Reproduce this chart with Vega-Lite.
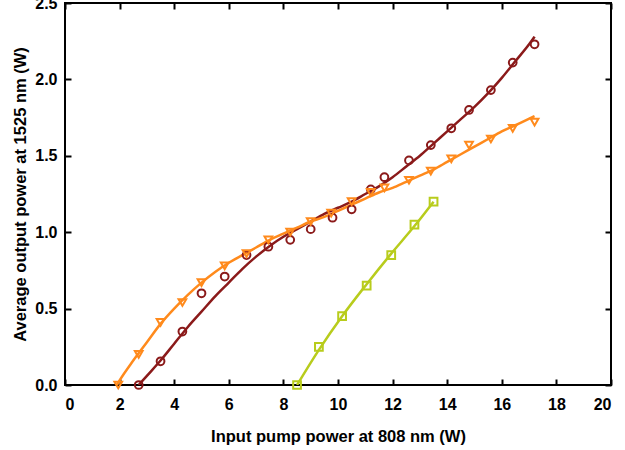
{
  "$schema": "https://vega.github.io/schema/vega-lite/v6.json",
  "width": 546,
  "height": 382,
  "padding": {"left": 65, "top": 3, "right": 14, "bottom": 65},
  "autosize": {"type": "none"},
  "background": "white",
  "config": {
    "font": "Liberation Sans",
    "view": {"stroke": "#000000", "strokeWidth": 2},
    "axis": {
      "zindex": 2,
      "grid": false,
      "domain": false,
      "ticks": true,
      "tickOpacity": 1,
      "offset": -6,
      "tickColor": "#000000",
      "tickWidth": 2,
      "tickSize": 6,
      "labelFont": "Liberation Sans",
      "labelFontWeight": "bold",
      "labelFontSize": 16,
      "labelColor": "#000000",
      "titleFont": "Liberation Sans",
      "titleFontWeight": "bold",
      "titleFontSize": 16.5,
      "titleColor": "#000000"
    },
    "legend": {"disable": false, "zindex": 2, "symbolOpacity": 1}
  },
  "datasets": {
    "measured": [
      {"series": "40 kHz (double-end)", "pump": 2.7, "power": 0.0},
      {"series": "40 kHz (double-end)", "pump": 3.5, "power": 0.155},
      {"series": "40 kHz (double-end)", "pump": 4.3, "power": 0.35},
      {"series": "40 kHz (double-end)", "pump": 5.0, "power": 0.6},
      {"series": "40 kHz (double-end)", "pump": 5.85, "power": 0.71},
      {"series": "40 kHz (double-end)", "pump": 6.65, "power": 0.85},
      {"series": "40 kHz (double-end)", "pump": 7.45, "power": 0.905},
      {"series": "40 kHz (double-end)", "pump": 8.25, "power": 0.95},
      {"series": "40 kHz (double-end)", "pump": 9.0, "power": 1.02},
      {"series": "40 kHz (double-end)", "pump": 9.8, "power": 1.095},
      {"series": "40 kHz (double-end)", "pump": 10.5, "power": 1.15},
      {"series": "40 kHz (double-end)", "pump": 11.2, "power": 1.28},
      {"series": "40 kHz (double-end)", "pump": 11.7, "power": 1.36},
      {"series": "40 kHz (double-end)", "pump": 12.6, "power": 1.47},
      {"series": "40 kHz (double-end)", "pump": 13.4, "power": 1.57},
      {"series": "40 kHz (double-end)", "pump": 14.15, "power": 1.68},
      {"series": "40 kHz (double-end)", "pump": 14.8, "power": 1.8},
      {"series": "40 kHz (double-end)", "pump": 15.6, "power": 1.93},
      {"series": "40 kHz (double-end)", "pump": 16.4, "power": 2.11},
      {"series": "40 kHz (double-end)", "pump": 17.2, "power": 2.23},
      {"series": "20 kHz (double-end)", "pump": 1.95, "power": 0.0},
      {"series": "20 kHz (double-end)", "pump": 2.7, "power": 0.2},
      {"series": "20 kHz (double-end)", "pump": 3.5, "power": 0.41},
      {"series": "20 kHz (double-end)", "pump": 4.3, "power": 0.54},
      {"series": "20 kHz (double-end)", "pump": 5.0, "power": 0.67},
      {"series": "20 kHz (double-end)", "pump": 5.85, "power": 0.78},
      {"series": "20 kHz (double-end)", "pump": 6.65, "power": 0.86},
      {"series": "20 kHz (double-end)", "pump": 7.45, "power": 0.95},
      {"series": "20 kHz (double-end)", "pump": 8.25, "power": 1.0},
      {"series": "20 kHz (double-end)", "pump": 9.0, "power": 1.07},
      {"series": "20 kHz (double-end)", "pump": 9.75, "power": 1.125},
      {"series": "20 kHz (double-end)", "pump": 10.5, "power": 1.2},
      {"series": "20 kHz (double-end)", "pump": 11.2, "power": 1.26},
      {"series": "20 kHz (double-end)", "pump": 11.7, "power": 1.29},
      {"series": "20 kHz (double-end)", "pump": 12.6, "power": 1.34},
      {"series": "20 kHz (double-end)", "pump": 13.4, "power": 1.4},
      {"series": "20 kHz (double-end)", "pump": 14.15, "power": 1.48},
      {"series": "20 kHz (double-end)", "pump": 14.8, "power": 1.57},
      {"series": "20 kHz (double-end)", "pump": 15.6, "power": 1.61},
      {"series": "20 kHz (double-end)", "pump": 16.4, "power": 1.68},
      {"series": "20 kHz (double-end)", "pump": 17.2, "power": 1.72},
      {"series": "20 kHz (conventional)", "pump": 8.5, "power": 0.0},
      {"series": "20 kHz (conventional)", "pump": 9.3, "power": 0.25},
      {"series": "20 kHz (conventional)", "pump": 10.15, "power": 0.45},
      {"series": "20 kHz (conventional)", "pump": 11.05, "power": 0.65},
      {"series": "20 kHz (conventional)", "pump": 11.95, "power": 0.85},
      {"series": "20 kHz (conventional)", "pump": 12.8, "power": 1.05},
      {"series": "20 kHz (conventional)", "pump": 13.5, "power": 1.2}
    ],
    "fitted": [
      {"series": "40 kHz (double-end)", "pump": 2.7, "power": 0.0},
      {"series": "40 kHz (double-end)", "pump": 3.0, "power": 0.06},
      {"series": "40 kHz (double-end)", "pump": 3.5, "power": 0.16},
      {"series": "40 kHz (double-end)", "pump": 4.0, "power": 0.27},
      {"series": "40 kHz (double-end)", "pump": 4.5, "power": 0.38},
      {"series": "40 kHz (double-end)", "pump": 5.0, "power": 0.48},
      {"series": "40 kHz (double-end)", "pump": 5.5, "power": 0.58},
      {"series": "40 kHz (double-end)", "pump": 6.0, "power": 0.67},
      {"series": "40 kHz (double-end)", "pump": 6.5, "power": 0.76},
      {"series": "40 kHz (double-end)", "pump": 7.0, "power": 0.84},
      {"series": "40 kHz (double-end)", "pump": 7.5, "power": 0.91},
      {"series": "40 kHz (double-end)", "pump": 8.0, "power": 0.97},
      {"series": "40 kHz (double-end)", "pump": 8.5, "power": 1.02},
      {"series": "40 kHz (double-end)", "pump": 9.0, "power": 1.07},
      {"series": "40 kHz (double-end)", "pump": 9.5, "power": 1.12},
      {"series": "40 kHz (double-end)", "pump": 10.0, "power": 1.16},
      {"series": "40 kHz (double-end)", "pump": 10.5, "power": 1.2},
      {"series": "40 kHz (double-end)", "pump": 11.0, "power": 1.25},
      {"series": "40 kHz (double-end)", "pump": 11.5, "power": 1.3},
      {"series": "40 kHz (double-end)", "pump": 12.0, "power": 1.36},
      {"series": "40 kHz (double-end)", "pump": 12.5, "power": 1.43},
      {"series": "40 kHz (double-end)", "pump": 13.0, "power": 1.5},
      {"series": "40 kHz (double-end)", "pump": 13.5, "power": 1.58},
      {"series": "40 kHz (double-end)", "pump": 14.0, "power": 1.66},
      {"series": "40 kHz (double-end)", "pump": 14.5, "power": 1.74},
      {"series": "40 kHz (double-end)", "pump": 15.0, "power": 1.82},
      {"series": "40 kHz (double-end)", "pump": 15.5, "power": 1.91},
      {"series": "40 kHz (double-end)", "pump": 16.0, "power": 2.01},
      {"series": "40 kHz (double-end)", "pump": 16.5, "power": 2.12},
      {"series": "40 kHz (double-end)", "pump": 17.0, "power": 2.23},
      {"series": "40 kHz (double-end)", "pump": 17.2, "power": 2.28},
      {"series": "20 kHz (double-end)", "pump": 1.9, "power": 0.0},
      {"series": "20 kHz (double-end)", "pump": 2.0, "power": 0.03},
      {"series": "20 kHz (double-end)", "pump": 2.5, "power": 0.16},
      {"series": "20 kHz (double-end)", "pump": 3.0, "power": 0.28},
      {"series": "20 kHz (double-end)", "pump": 3.5, "power": 0.4},
      {"series": "20 kHz (double-end)", "pump": 4.0, "power": 0.5},
      {"series": "20 kHz (double-end)", "pump": 4.5, "power": 0.59},
      {"series": "20 kHz (double-end)", "pump": 5.0, "power": 0.67},
      {"series": "20 kHz (double-end)", "pump": 5.5, "power": 0.74},
      {"series": "20 kHz (double-end)", "pump": 6.0, "power": 0.8},
      {"series": "20 kHz (double-end)", "pump": 6.5, "power": 0.85},
      {"series": "20 kHz (double-end)", "pump": 7.0, "power": 0.9},
      {"series": "20 kHz (double-end)", "pump": 7.5, "power": 0.95},
      {"series": "20 kHz (double-end)", "pump": 8.0, "power": 0.99},
      {"series": "20 kHz (double-end)", "pump": 8.5, "power": 1.03},
      {"series": "20 kHz (double-end)", "pump": 9.0, "power": 1.07},
      {"series": "20 kHz (double-end)", "pump": 9.5, "power": 1.1},
      {"series": "20 kHz (double-end)", "pump": 10.0, "power": 1.14},
      {"series": "20 kHz (double-end)", "pump": 10.5, "power": 1.18},
      {"series": "20 kHz (double-end)", "pump": 11.0, "power": 1.22},
      {"series": "20 kHz (double-end)", "pump": 11.5, "power": 1.26},
      {"series": "20 kHz (double-end)", "pump": 12.0, "power": 1.29},
      {"series": "20 kHz (double-end)", "pump": 12.5, "power": 1.33},
      {"series": "20 kHz (double-end)", "pump": 13.0, "power": 1.37},
      {"series": "20 kHz (double-end)", "pump": 13.5, "power": 1.41},
      {"series": "20 kHz (double-end)", "pump": 14.0, "power": 1.46},
      {"series": "20 kHz (double-end)", "pump": 14.5, "power": 1.51},
      {"series": "20 kHz (double-end)", "pump": 15.0, "power": 1.56},
      {"series": "20 kHz (double-end)", "pump": 15.5, "power": 1.61},
      {"series": "20 kHz (double-end)", "pump": 16.0, "power": 1.66},
      {"series": "20 kHz (double-end)", "pump": 16.5, "power": 1.7},
      {"series": "20 kHz (double-end)", "pump": 17.2, "power": 1.76},
      {"series": "20 kHz (conventional)", "pump": 8.5, "power": 0.0},
      {"series": "20 kHz (conventional)", "pump": 9.3, "power": 0.23},
      {"series": "20 kHz (conventional)", "pump": 10.15, "power": 0.45},
      {"series": "20 kHz (conventional)", "pump": 11.05, "power": 0.66},
      {"series": "20 kHz (conventional)", "pump": 11.95, "power": 0.86},
      {"series": "20 kHz (conventional)", "pump": 12.8, "power": 1.04},
      {"series": "20 kHz (conventional)", "pump": 13.5, "power": 1.2}
    ]
  },
  "layer": [
    {
      "data": {"name": "fitted"},
      "mark": {"type": "line", "strokeWidth": 2.5, "interpolate": "monotone", "clip": true},
      "encoding": {
        "x": {
          "field": "pump", "type": "quantitative",
          "scale": {"domain": [0, 20], "nice": false},
          "axis": {"title": "Input pump power at 808 nm (W)", "values": [0, 2, 4, 6, 8, 10, 12, 14, 16, 18, 20], "ticks": true, "labelPadding": 11, "titlePadding": 16}
        },
        "y": {
          "field": "power", "type": "quantitative",
          "scale": {"domain": [0, 2.5], "nice": false},
          "axis": {"title": "Average output power at 1525 nm (W)", "values": [0, 0.5, 1, 1.5, 2, 2.5], "format": ".1f", "ticks": true, "labelPadding": 8, "titlePadding": 6}
        },
        "stroke": {
          "field": "series", "type": "nominal",
          "scale": {"domain": ["40 kHz (double-end)", "20 kHz (double-end)", "20 kHz (conventional)"], "range": ["#8b1a1a", "#ff8a1c", "#b8cc1c"]},
          "legend": null
        }
      }
    },
    {
      "data": {"name": "measured"},
      "mark": {"type": "point", "filled": false, "strokeWidth": 2, "size": 60, "opacity": 1},
      "encoding": {
        "x": {"field": "pump", "type": "quantitative", "axis": null},
        "y": {"field": "power", "type": "quantitative", "axis": null},
        "color": {
          "field": "series", "type": "nominal",
          "scale": {"domain": ["40 kHz (double-end)", "20 kHz (double-end)", "20 kHz (conventional)"], "range": ["#8b1a1a", "#ff8a1c", "#b8cc1c"]},
          "legend": {
            "disable": false,
            "title": null,
            "orient": "top-left",
            "offset": 0,
            "padding": 0,
            "rowPadding": 4,
            "symbolSize": 60,
            "symbolStrokeWidth": 2,
            "labelFont": "Liberation Sans",
            "labelFontWeight": "bold",
            "labelFontSize": 16.5,
            "labelColor": "#000000",
            "labelOffset": 26
          }
        },
        "shape": {
          "field": "series", "type": "nominal",
          "scale": {"domain": ["40 kHz (double-end)", "20 kHz (double-end)", "20 kHz (conventional)"], "range": ["circle", "triangle-down", "square"]}
        }
      }
    },
    {
      "data": {"name": "measured"},
      "mark": {"type": "point", "opacity": 0},
      "encoding": {
        "x": {"field": "pump", "type": "quantitative", "axis": {"orient": "top", "labels": false, "ticks": true, "title": null, "values": [0, 2, 4, 6, 8, 10, 12, 14, 16, 18, 20]}},
        "y": {"field": "power", "type": "quantitative", "axis": {"orient": "right", "labels": false, "ticks": true, "title": null, "values": [0, 0.5, 1, 1.5, 2, 2.5]}}
      }
    }
  ],
  "resolve": {"axis": {"x": "independent", "y": "independent"}}
}
